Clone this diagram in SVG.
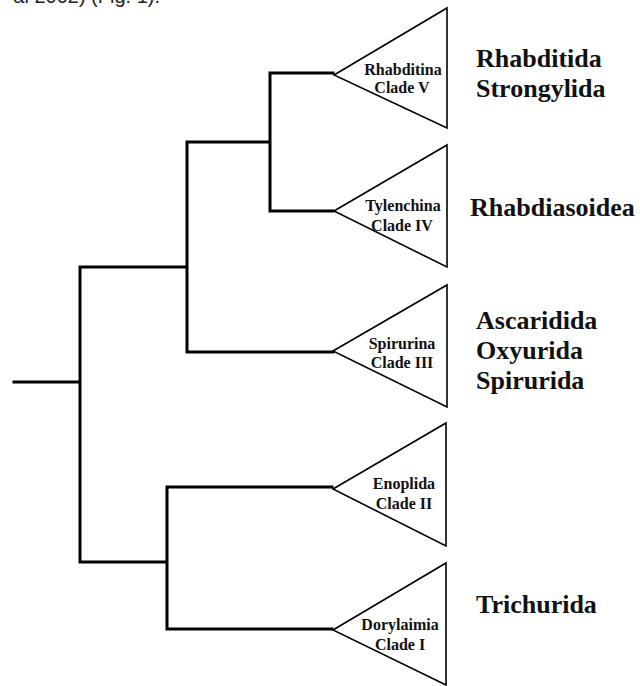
<svg xmlns="http://www.w3.org/2000/svg" width="640" height="686" viewBox="0 0 640 686">
<style>
.br{fill:none;stroke:#000;stroke-width:3;stroke-linecap:square}
.tri{fill:#fff;stroke:#000;stroke-width:1.6;stroke-linejoin:miter}
.in{font-family:"Liberation Serif","Times New Roman",serif;font-weight:bold;font-size:16px;text-anchor:middle;fill:#111}
.lab{font-family:"Liberation Serif","Times New Roman",serif;font-weight:bold;font-size:26px;fill:#111}
.top{font-family:"Liberation Sans",Arial,sans-serif;font-size:20px;fill:#222}
</style>
<rect width="640" height="686" fill="#fff"/>
<text class="top" x="160" y="3" text-anchor="end">al 2002) (Fig. 1).</text>
<g id="connectors">
<path class="br" d="M14 382H80M80 267V562M80 267H184M80 562H167M187 142V352M187 142H270M187 352H333M270 73V211M270 73H333M270 211H333M167 487V629M167 487H332M167 629H332"/>
</g>
<g id="clade5">
<polygon class="tri" points="334,75 447,8 447,128"/>
<text class="in" x="403" y="75">Rhabditina</text>
<text class="in" x="402" y="93">Clade V</text>
</g>
<g id="clade4">
<polygon class="tri" points="334,211 447,145 447,267"/>
<text class="in" x="403" y="211">Tylenchina</text>
<text class="in" x="402" y="231">Clade IV</text>
</g>
<g id="clade3">
<polygon class="tri" points="333,351 447,285 447,407"/>
<text class="in" x="402" y="349">Spirurina</text>
<text class="in" x="402" y="368">Clade III</text>
</g>
<g id="clade2">
<polygon class="tri" points="333,489 446,423 446,546"/>
<text class="in" x="404" y="489">Enoplida</text>
<text class="in" x="404" y="509">Clade II</text>
</g>
<g id="clade1">
<polygon class="tri" points="333,630 446,563 446,685"/>
<text class="in" x="400" y="630">Dorylaimia</text>
<text class="in" x="400" y="650">Clade I</text>
</g>
<g id="labels">
<text class="lab" x="476" y="67">Rhabditida</text>
<text class="lab" x="476" y="97">Strongylida</text>
<text class="lab" x="470" y="216">Rhabdiasoidea</text>
<text class="lab" x="476" y="329">Ascaridida</text>
<text class="lab" x="476" y="359">Oxyurida</text>
<text class="lab" x="476" y="389">Spirurida</text>
<text class="lab" x="476" y="613">Trichurida</text>
</g>
</svg>
